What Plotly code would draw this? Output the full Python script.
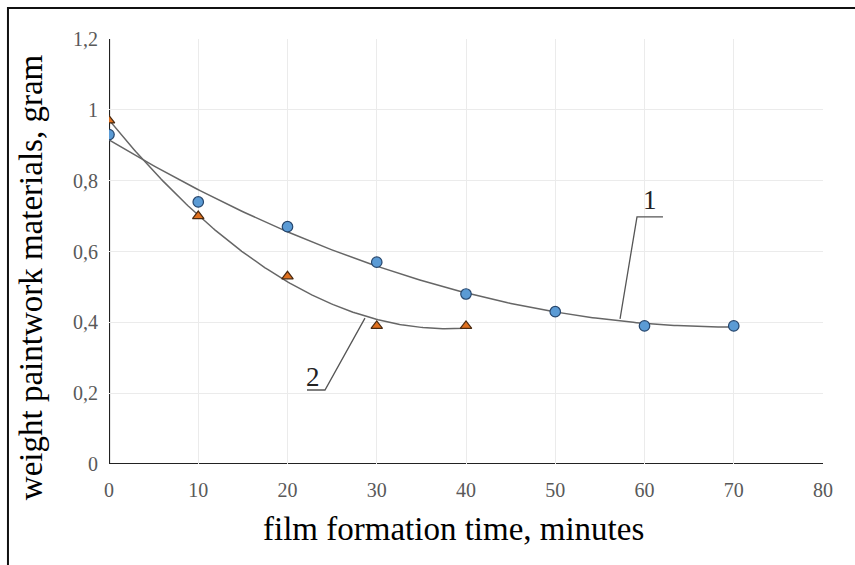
import numpy as np
import plotly.graph_objects as go

# ---- data ----
time_1 = [0, 10, 20, 30, 40, 50, 60, 70]
weight_1 = [0.93, 0.74, 0.67, 0.57, 0.48, 0.43, 0.39, 0.39]
time_2 = [0, 10, 20, 30, 40]
weight_2 = [0.97, 0.70, 0.53, 0.39, 0.39]
x_ticks = [0, 10, 20, 30, 40, 50, 60, 70, 80]
y_ticks = [0, 0.2, 0.4, 0.6, 0.8, 1.0, 1.2]
y_tick_labels = ["0", "0,2", "0,4", "0,6", "0,8", "1", "1,2"]

# polynomial (order 2) trendlines, as in the source chart
def trend(xs, ys):
    c = np.polyfit(xs, ys, 2)
    xx = np.linspace(min(xs), max(xs), 200)
    return xx, np.polyval(c, xx)

tx1, ty1 = trend(time_1, weight_1)
tx2, ty2 = trend(time_2, weight_2)

line_col = "#666666"
fig = go.Figure()
fig.add_trace(go.Scatter(x=tx1, y=ty1, mode="lines", line=dict(color=line_col, width=1.5),
                         hoverinfo="skip", showlegend=False))
fig.add_trace(go.Scatter(x=tx2, y=ty2, mode="lines", line=dict(color=line_col, width=1.5),
                         hoverinfo="skip", showlegend=False))
fig.add_trace(go.Scatter(x=time_1, y=weight_1, mode="markers", showlegend=False,
                         marker=dict(symbol="circle", size=10.5, color="#5b9bd5",
                                     line=dict(color="#26466d", width=1.2))))
fig.add_trace(go.Scatter(x=time_2, y=weight_2, mode="markers", showlegend=False,
                         marker=dict(symbol="triangle-up", size=10, color="#e0701e",
                                     line=dict(color="#4a2a10", width=1.2))))

serif = "Liberation Serif, Times New Roman, serif"

shapes = [
    # leader line for curve 1
    dict(type="path", xref="x", yref="y", path="M 57.26,0.410 L 59.16,0.698 L 62.07,0.698",
         line=dict(color="#555555", width=1.3), layer="above"),
    # leader line for curve 2
    dict(type="path", xref="x", yref="y", path="M 28.68,0.412 L 24.2,0.209 L 22.18,0.209",
         line=dict(color="#555555", width=1.3), layer="above"),
    # outer frame (left and top visible)
    dict(type="rect", xref="paper", yref="paper", x0=-0.1415, x1=1.1, y0=-0.4, y1=1.0729,
         line=dict(color="#111111", width=2), fillcolor="rgba(0,0,0,0)", layer="above"),
]

annotations = [
    dict(x=60.6, y=0.745, xref="x", yref="y", text="1", showarrow=False,
         font=dict(family=serif, size=27, color="#222222")),
    dict(x=22.9, y=0.245, xref="x", yref="y", text="2", showarrow=False,
         font=dict(family=serif, size=27, color="#222222")),
    dict(x=-0.109, y=0.44, xref="paper", yref="paper", text="weight paintwork materials, gram",
         textangle=-90, showarrow=False, xanchor="center", yanchor="middle",
         font=dict(family=serif, size=33, color="#000000")),
    dict(x=0.482, y=-0.153, xref="paper", yref="paper", text="film formation time, minutes",
         showarrow=False, xanchor="center", yanchor="middle",
         font=dict(family=serif, size=33, color="#000000")),
]

fig.update_layout(
    width=855, height=565,
    margin=dict(l=109, r=32, t=39, b=101),
    paper_bgcolor="white", plot_bgcolor="white",
    shapes=shapes, annotations=annotations,
    xaxis=dict(range=[0, 80], tickvals=x_ticks, showgrid=True, gridcolor="#ebebeb", gridwidth=1,
               zeroline=False, showline=False, ticks="", ticklen=0,
               tickfont=dict(family=serif, size=20, color="#595959")),
    yaxis=dict(range=[0, 1.2], tickvals=y_ticks, ticktext=y_tick_labels, showgrid=True,
               gridcolor="#ebebeb", gridwidth=1, zeroline=False, showline=False, ticks="",
               tickfont=dict(family=serif, size=20, color="#595959")),
)
# axis lines at x=0 and y=0
fig.add_shape(type="line", xref="x", yref="y", x0=0, x1=0, y0=0, y1=1.2,
              line=dict(color="#222222", width=2.2), layer="below")
fig.add_shape(type="line", xref="x", yref="y", x0=0, x1=80, y0=0, y1=0,
              line=dict(color="#222222", width=2.2), layer="below")
fig.update_xaxes(ticklabelstandoff=12)
fig.update_yaxes(ticklabelstandoff=10)

fig.write_html("out.html", config={"displayModeBar": False},
               post_script="document.body.style.margin='0';")
